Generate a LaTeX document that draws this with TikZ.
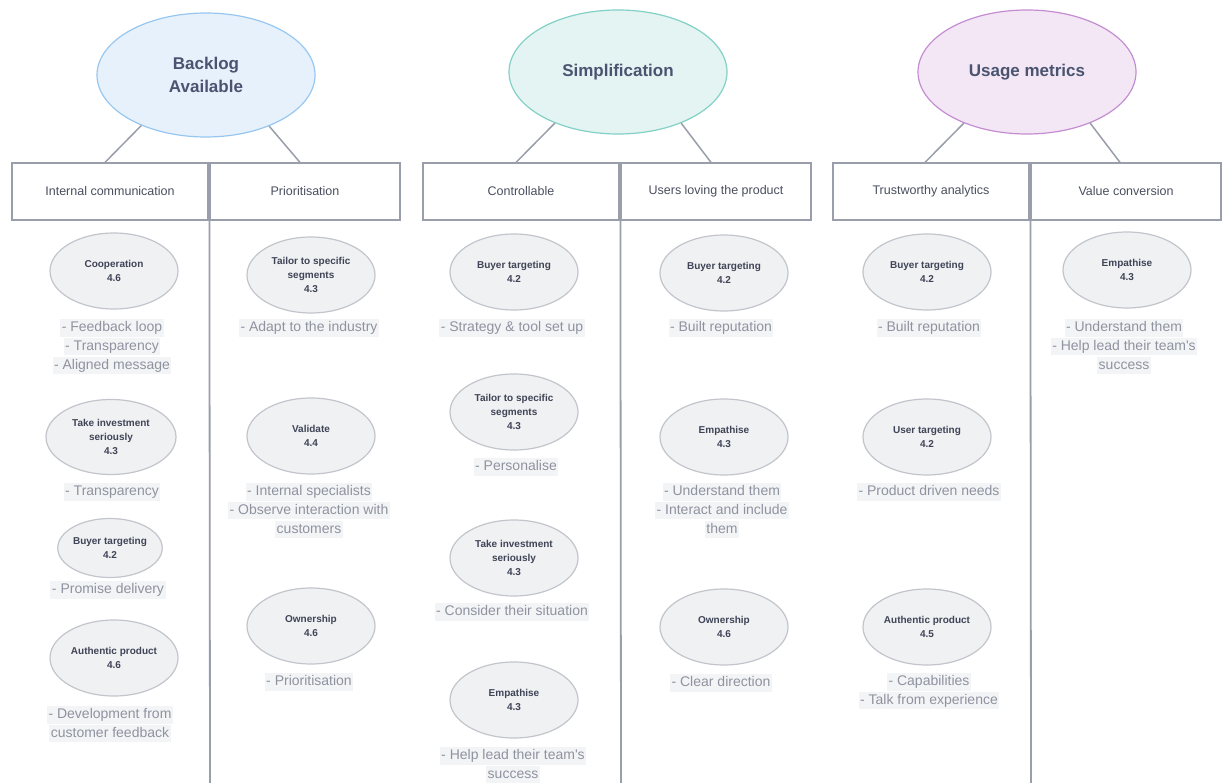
\documentclass[tikz,border=0pt]{standalone}
\usepackage{fontspec}
\setmainfont{Liberation Sans}
\usetikzlibrary{shapes.geometric}

\definecolor{boxline}{HTML}{9A9EAA}
\definecolor{headtext}{HTML}{4A4F5E}
\definecolor{titletext}{HTML}{4A5470}
\definecolor{blueline}{HTML}{97C7F0}
\definecolor{bluefill}{HTML}{E6F1FB}
\definecolor{tealline}{HTML}{82D0C6}
\definecolor{tealfill}{HTML}{E4F4F2}
\definecolor{purpleline}{HTML}{C48DD2}
\definecolor{purplefill}{HTML}{F3E7F5}
\definecolor{ovline}{HTML}{C3C5CC}
\definecolor{ovfill}{HTML}{F0F1F3}
\definecolor{factortext}{HTML}{3F4456}
\definecolor{desctext}{HTML}{8F93A0}
\definecolor{hlfill}{HTML}{F3F4F6}

\tikzset{
  topic/.style={ellipse, draw, line width=1.2, minimum width=218, minimum height=124,
    inner sep=0, align=center, text=titletext,
    font=\fontsize{17}{23}\selectfont\bfseries},
  headbox/.style={rectangle, draw=boxline, line width=1.2, minimum width=196,
    minimum height=57, inner sep=0, text=headtext, font=\fontsize{12.5}{15}\selectfont},
  factor/.style={ellipse, draw=ovline, fill=ovfill, line width=1.2, minimum width=128,
    minimum height=76, inner sep=0, align=center, text=factortext,
    font=\fontsize{10}{14}\selectfont\bfseries},
  dline/.style={fill=hlfill, text=desctext, inner xsep=1.5, inner ysep=2,
    text height=10.5, text depth=3, font=\fontsize{14}{17}\selectfont},
  branch/.style={draw=boxline, line width=1.5},
  divider/.style={draw=boxline, line width=1.8},
}

% description lines under a factor: name, x, first-line y, list of lines
\newcommand\desclines[4]{%
  \foreach \t [count=\i] in {#4} {
    \node[dline] (#1-\i) at (#2, {#3+2+18.7*(\i-1)}) {\t};
  }%
}

\begin{document}
\begin{tikzpicture}[x=1pt, y=-1pt]
\useasboundingbox[fill=white] (0,0) rectangle (1226,783);

% ---- top-level topics
\node[topic, draw=blueline, fill=bluefill] (backlog) at (206,75) {Backlog\\Available};
\node[topic, draw=tealline, fill=tealfill] (simpl) at (618,72) {Simplification};
\node[topic, draw=purpleline, fill=purplefill] (usage) at (1027,72) {Usage metrics};

% ---- column headers
\node[headbox] (h1) at (110,191.5) {Internal communication};
\node[headbox, minimum width=190] (h2) at (305,191.5) {Prioritisation};
\node[headbox] (h3) at (521,191.5) {Controllable};
\node[headbox, minimum width=190] (h4) at (716,191.5) {Users loving the product};
\node[headbox] (h5) at (931,191.5) {Trustworthy analytics};
\node[headbox, minimum width=190] (h6) at (1126,191.5) {Value conversion};

% ---- branches from topics to headers
\draw[branch] (backlog.218) -- ([xshift=-5pt]h1.north);
\draw[branch] (backlog.321) -- ([xshift=-5pt]h2.north);
\draw[branch] (simpl.219) -- ([xshift=-5pt]h3.north);
\draw[branch] (simpl.321) -- ([xshift=-5pt]h4.north);
\draw[branch] (usage.219) -- ([xshift=-6pt]h5.north);
\draw[branch] (usage.321) -- ([xshift=-6pt]h6.north);

% ---- column dividers
\coordinate (d1) at (210,783);
\coordinate (d2) at (621,783);
\coordinate (d3) at (1031,783);
\draw[divider] (h2.south west) -- (d1);
\draw[divider] (h4.south west) -- (d2);
\draw[divider] (h6.south west) -- (d3);

% ---- Internal communication
\node[factor] (c1a) at (114,271) {Cooperation\\4.6};
\desclines{c1ad}{112}{326}{- Feedback loop,- Transparency,- Aligned message}
\node[factor, minimum width=130, minimum height=75] (c1b) at (111,437) {Take investment\\seriously\\4.3};
\desclines{c1bd}{112}{490}{- Transparency}
\node[factor, minimum width=96, minimum height=59] (c1c) at (110,548) {Buyer targeting\\4.2};
\desclines{c1cd}{108}{588}{- Promise delivery}
\node[factor] (c1d) at (114,658) {Authentic product\\4.6};
\desclines{c1dd}{110}{713}{- Development from,customer feedback}

% ---- Prioritisation
\node[factor] (c2a) at (311,275) {Tailor to specific\\segments\\4.3};
\desclines{c2ad}{309}{326}{- Adapt to the industry}
\node[factor] (c2b) at (311,436) {Validate\\4.4};
\desclines{c2bd}{309}{490}{- Internal specialists,- Observe interaction with,customers}
\node[factor] (c2c) at (311,626) {Ownership\\4.6};
\desclines{c2cd}{309}{680}{- Prioritisation}

% ---- Controllable
\node[factor] (c3a) at (514,272) {Buyer targeting\\4.2};
\desclines{c3ad}{512}{326}{- Strategy \& tool set up}
\node[factor] (c3b) at (514,412) {Tailor to specific\\segments\\4.3};
\desclines{c3bd}{516}{465}{- Personalise}
\node[factor] (c3c) at (514,558) {Take investment\\seriously\\4.3};
\desclines{c3cd}{512}{610}{- Consider their situation}
\node[factor] (c3d) at (514,700) {Empathise\\4.3};
\desclines{c3dd}{513}{754}{- Help lead their team\textquotesingle s,success}

% ---- Users loving the product
\node[factor] (c4a) at (724,273) {Buyer targeting\\4.2};
\desclines{c4ad}{721}{326}{- Built reputation}
\node[factor] (c4b) at (724,437) {Empathise\\4.3};
\desclines{c4bd}{722}{490}{- Understand them,- Interact and include,them}
\node[factor] (c4c) at (724,627) {Ownership\\4.6};
\desclines{c4cd}{721}{681}{- Clear direction}

% ---- Trustworthy analytics
\node[factor] (c5a) at (927,272) {Buyer targeting\\4.2};
\desclines{c5ad}{929}{326}{- Built reputation}
\node[factor] (c5b) at (927,437) {User targeting\\4.2};
\desclines{c5bd}{929}{490}{- Product driven needs}
\node[factor] (c5c) at (927,627) {Authentic product\\4.5};
\desclines{c5cd}{929}{680}{- Capabilities,- Talk from experience}

% ---- Value conversion
\node[factor] (c6a) at (1127,270) {Empathise\\4.3};
\desclines{c6ad}{1124}{326}{- Understand them,- Help lead their team\textquotesingle s,success}
\end{tikzpicture}
\end{document}
